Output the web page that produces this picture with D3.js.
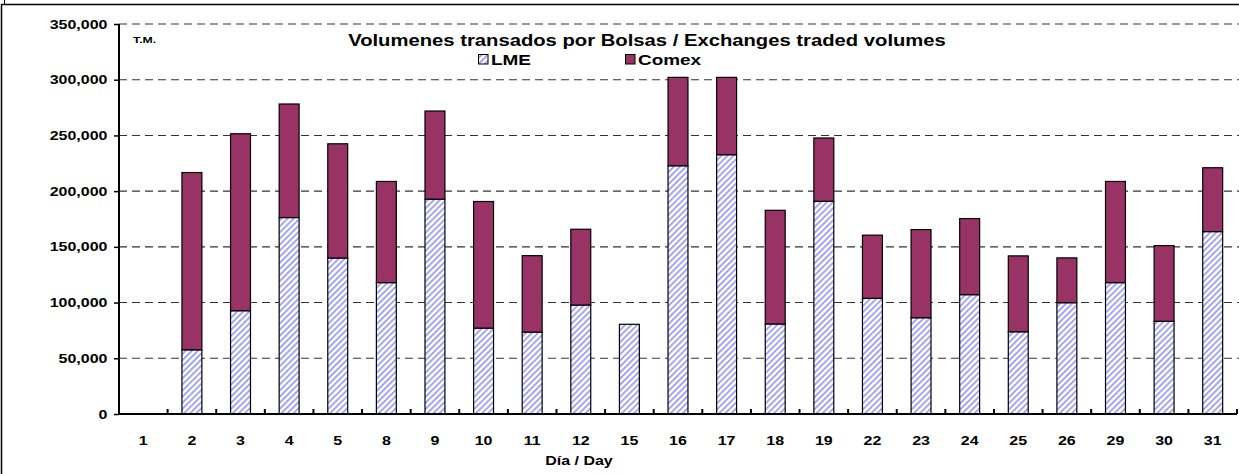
<!DOCTYPE html>
<html>
<head>
<meta charset="utf-8">
<script src="https://cdn.jsdelivr.net/npm/d3@7"></script>
<style>
  body { margin: 0; background: #fff; }
  text { font-family: "Liberation Sans", Arial, sans-serif; font-weight: bold; fill: #000; }
</style>
</head>
<body>
<div class="chart"></div>
<script>
// Día / Day
var days = ["1","2","3","4","5","8","9","10","11","12","15","16","17","18","19","22","23","24","25","26","29","30","31"];
// toneladas métricas
var lme   = [0, 57600, 92700, 176300, 140000, 117900, 192800, 77100, 73500, 97800, 80500, 222800, 232700, 80800, 190900, 103800, 86400, 107100, 73800, 99900, 117900, 83200, 163700];
var comex = [0, 159100, 158800, 101900, 102500, 90800, 79100, 113600, 68600, 68000, 0, 79300, 69400, 102000, 56800, 56700, 79100, 68300, 68100, 40200, 90800, 67900, 57300];
var yTicks = [0, 50000, 100000, 150000, 200000, 250000, 300000, 350000];
var seriesNames = ["LME", "Comex"];

var width = 1239, height = 474;
var plotLeft = 119, plotRight = 1237, plotTop = 24, plotBottom = 414;
var sx = 1.28; // texto ensanchado como en el original

var svg = d3.select(".chart").append("svg").attr("width", width).attr("height", height);

var defs = svg.append("defs");
var pat = defs.append("pattern")
    .attr("id", "hatch")
    .attr("patternUnits", "userSpaceOnUse")
    .attr("width", 4.3).attr("height", 4.3)
    .attr("patternTransform", "rotate(45)");
pat.append("rect").attr("width", 4.3).attr("height", 4.3).attr("fill", "#fff");
pat.append("line").attr("x1", 1).attr("y1", 0).attr("x2", 1).attr("y2", 4.3)
    .attr("stroke", "#9c9cf2").attr("stroke-width", 1.8);

var colors = { LME: "url(#hatch)", Comex: "#993366" };

// marco
svg.append("rect").attr("x", 1.5).attr("y", 4.5).attr("width", 1300).attr("height", 500)
    .attr("fill", "none").attr("stroke", "#000").attr("stroke-width", 1.5);
svg.append("line").attr("x1", 4.5).attr("x2", 4.5).attr("y1", 0).attr("y2", 4)
    .attr("stroke", "#000");

var x = d3.scaleBand().domain(days).range([plotLeft, plotRight]).paddingInner(0.59).paddingOuter(0.295);
var y = d3.scaleLinear().domain([0, 350000]).range([plotBottom, plotTop]);

// grilla
svg.append("g").selectAll("line")
    .data(yTicks.filter(function(d){ return d > 0; }))
    .enter().append("line")
    .attr("x1", plotLeft).attr("x2", width)
    .attr("y1", function(d){ return y(d); }).attr("y2", function(d){ return y(d); })
    .attr("stroke", "#333").attr("stroke-width", 1.1)
    .attr("stroke-dasharray", "8,5");

// barras apiladas
var table = days.map(function(d, i){ return { day: d, LME: lme[i], Comex: comex[i] }; });
var stacked = d3.stack().keys(seriesNames)(table);

svg.append("g").selectAll("g")
    .data(stacked)
    .enter().append("g")
    .attr("fill", function(s){ return colors[s.key]; })
    .selectAll("rect")
    .data(function(s){ return s.filter(function(p){ return p[1] > p[0]; }); })
    .enter().append("rect")
    .attr("x", function(p){ return x(p.data.day); })
    .attr("width", x.bandwidth())
    .attr("y", function(p){ return y(p[1]); })
    .attr("height", function(p){ return y(p[0]) - y(p[1]); })
    .attr("stroke", "#000").attr("stroke-width", 1.2);

// eje Y
var yAxis = d3.axisLeft(y).tickValues(yTicks).tickSize(5).tickPadding(4)
    .tickFormat(d3.format(","));
var gy = svg.append("g").attr("transform", "translate(" + plotLeft + ",0)").call(yAxis);
gy.select(".domain").attr("stroke-width", 2).attr("d", "M0," + (plotBottom + 1) + "V" + plotTop);
gy.selectAll(".tick line").attr("stroke-width", 1.5);
gy.selectAll("text").attr("font-size", 12.5).attr("font-family", null)
    .attr("transform", "scale(" + sx + ",1)");

// eje X
var xAxis = d3.axisBottom(x).tickSize(0).tickPadding(22);
var gx = svg.append("g").attr("transform", "translate(0," + plotBottom + ")").call(xAxis);
gx.select(".domain").attr("stroke-width", 2).attr("d", "M" + plotLeft + ",0H" + plotRight);
gx.selectAll("text").attr("font-size", 12.5).attr("font-family", null)
    .attr("transform", "scale(" + sx + ",1)");
var step = x.step();
gx.append("g").selectAll("line")
    .data(days.slice(1).concat(["end"]))
    .enter().append("line")
    .attr("x1", function(d, i){ return plotLeft + step * (i + 1); })
    .attr("x2", function(d, i){ return plotLeft + step * (i + 1); })
    .attr("y1", -5).attr("y2", 0)
    .attr("stroke", "#000").attr("stroke-width", 2);

function stretchedText(tx, ty, str, size, anchor, k){
    return svg.append("text")
        .attr("transform", "translate(" + tx + "," + ty + ") scale(" + (k || sx) + ",1)")
        .attr("font-size", size)
        .attr("text-anchor", anchor || "start")
        .text(str);
}

stretchedText(579, 465, "Día / Day", 12.5, "middle");
stretchedText(133, 43, "T.M.", 9.6);
stretchedText(647, 46, "Volumenes transados por Bolsas / Exchanges traded volumes", 16, "middle", 1.265);

// leyenda
var legendX = [478, 625];
seriesNames.forEach(function(name, i){
    svg.append("rect").attr("x", legendX[i] + 0.5).attr("y", 54.5).attr("width", 9.5).attr("height", 9.5)
        .attr("fill", colors[name]).attr("stroke", "#000").attr("stroke-width", 1);
    stretchedText(legendX[i] + 13, 65, name, 14.8);
});
</script>
</body>
</html>
